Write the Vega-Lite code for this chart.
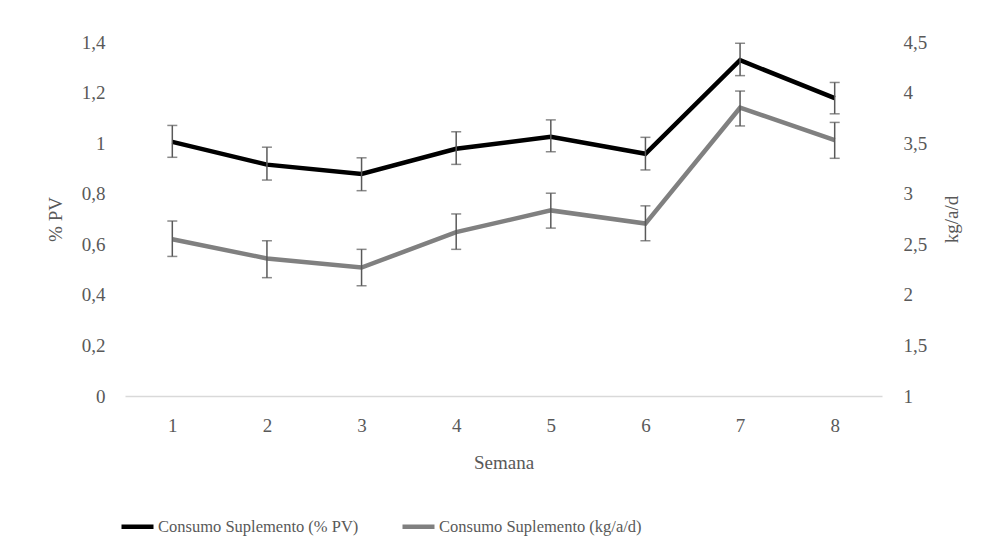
{
  "$schema": "https://vega.github.io/schema/vega-lite/v6.json",
  "width": 757,
  "height": 354,
  "autosize": {"type": "none"},
  "padding": {"left": 125, "top": 42, "right": 102, "bottom": 157},
  "background": "white",
  "config": {
    "view": {"stroke": null},
    "font": "Liberation Serif",
    "axis": {"labelFont": "Liberation Serif", "titleFont": "Liberation Serif", "labelColor": "#595959", "titleColor": "#595959", "labelFontSize": 19, "titleFontSize": 19, "titleFontWeight": "normal", "grid": false, "ticks": false},
    "legend": {"labelFont": "Liberation Serif", "labelFontSize": 16.5, "labelColor": "#595959", "labelLimit": 0}
  },
  "data": {
    "values": [
      {"semana": "1", "serie": "Consumo Suplemento (% PV)", "valor": 1.005, "lo": 0.944, "hi": 1.070},
      {"semana": "2", "serie": "Consumo Suplemento (% PV)", "valor": 0.915, "lo": 0.854, "hi": 0.984},
      {"semana": "3", "serie": "Consumo Suplemento (% PV)", "valor": 0.878, "lo": 0.812, "hi": 0.942},
      {"semana": "4", "serie": "Consumo Suplemento (% PV)", "valor": 0.978, "lo": 0.916, "hi": 1.045},
      {"semana": "5", "serie": "Consumo Suplemento (% PV)", "valor": 1.025, "lo": 0.966, "hi": 1.092},
      {"semana": "6", "serie": "Consumo Suplemento (% PV)", "valor": 0.958, "lo": 0.894, "hi": 1.023},
      {"semana": "7", "serie": "Consumo Suplemento (% PV)", "valor": 1.328, "lo": 1.267, "hi": 1.395},
      {"semana": "8", "serie": "Consumo Suplemento (% PV)", "valor": 1.178, "lo": 1.116, "hi": 1.240},
      {"semana": "1", "serie": "Consumo Suplemento (kg/a/d)", "valor": 2.55, "lo": 2.38, "hi": 2.73},
      {"semana": "2", "serie": "Consumo Suplemento (kg/a/d)", "valor": 2.36, "lo": 2.17, "hi": 2.535},
      {"semana": "3", "serie": "Consumo Suplemento (kg/a/d)", "valor": 2.27, "lo": 2.09, "hi": 2.45},
      {"semana": "4", "serie": "Consumo Suplemento (kg/a/d)", "valor": 2.62, "lo": 2.45, "hi": 2.80},
      {"semana": "5", "serie": "Consumo Suplemento (kg/a/d)", "valor": 2.835, "lo": 2.66, "hi": 3.005},
      {"semana": "6", "serie": "Consumo Suplemento (kg/a/d)", "valor": 2.705, "lo": 2.535, "hi": 2.88},
      {"semana": "7", "serie": "Consumo Suplemento (kg/a/d)", "valor": 3.85, "lo": 3.67, "hi": 4.015},
      {"semana": "8", "serie": "Consumo Suplemento (kg/a/d)", "valor": 3.53, "lo": 3.35, "hi": 3.705}
    ]
  },
  "encoding": {
    "x": {"field": "semana", "type": "ordinal", "title": "Semana",
      "scale": {"type": "point", "padding": 0.5},
      "axis": {"labelAngle": 0, "domainColor": "#d9d9d9", "domainWidth": 1.5, "labelPadding": 20, "titlePadding": 18}}
  },
  "layer": [
    {
      "transform": [{"filter": "datum.serie === 'Consumo Suplemento (% PV)'"}],
      "layer": [
        {
          "mark": {"type": "line", "strokeWidth": 4.5},
          "encoding": {
            "y": {"field": "valor", "type": "quantitative", "title": "% PV",
              "scale": {"domain": [0, 1.4], "nice": false, "zero": false},
              "axis": {"orient": "left", "values": [0, 0.2, 0.4, 0.6, 0.8, 1, 1.2, 1.4], "domain": false, "labelPadding": 20, "titlePadding": 16, "labelExpr": "replace(format(datum.value, '.2~f'), '.', ',')"}},
            "color": {"field": "serie", "type": "nominal",
              "scale": {"domain": ["Consumo Suplemento (% PV)", "Consumo Suplemento (kg/a/d)"], "range": ["#000000", "#808080"]},
              "legend": {"orient": "none", "legendX": -6, "legendY": 466, "direction": "horizontal", "title": null, "symbolType": "stroke", "symbolSize": 1024, "symbolStrokeWidth": 4.5, "labelOffset": 2, "columnPadding": 34}}
          }
        },
        {
          "mark": {"type": "rule", "color": "#595959", "strokeWidth": 1.5},
          "encoding": {"y": {"field": "lo", "type": "quantitative", "title": "% PV"}, "y2": {"field": "hi"}}
        },
        {
          "mark": {"type": "tick", "color": "#595959", "size": 10, "thickness": 1.5},
          "encoding": {"y": {"field": "lo", "type": "quantitative", "title": "% PV"}}
        },
        {
          "mark": {"type": "tick", "color": "#595959", "size": 10, "thickness": 1.5},
          "encoding": {"y": {"field": "hi", "type": "quantitative", "title": "% PV"}}
        }
      ]
    },
    {
      "transform": [{"filter": "datum.serie === 'Consumo Suplemento (kg/a/d)'"}],
      "layer": [
        {
          "mark": {"type": "line", "strokeWidth": 4.5},
          "encoding": {
            "y": {"field": "valor", "type": "quantitative", "title": "kg/a/d",
              "scale": {"domain": [1, 4.5], "nice": false, "zero": false},
              "axis": {"orient": "right", "values": [1, 1.5, 2, 2.5, 3, 3.5, 4, 4.5], "domain": false, "labelPadding": 21, "titlePadding": 35, "titleAngle": 270, "labelExpr": "replace(format(datum.value, '.2~f'), '.', ',')"}},
            "color": {"field": "serie", "type": "nominal"}
          }
        },
        {
          "mark": {"type": "rule", "color": "#595959", "strokeWidth": 1.5},
          "encoding": {"y": {"field": "lo", "type": "quantitative", "title": "kg/a/d"}, "y2": {"field": "hi"}}
        },
        {
          "mark": {"type": "tick", "color": "#595959", "size": 10, "thickness": 1.5},
          "encoding": {"y": {"field": "lo", "type": "quantitative", "title": "kg/a/d"}}
        },
        {
          "mark": {"type": "tick", "color": "#595959", "size": 10, "thickness": 1.5},
          "encoding": {"y": {"field": "hi", "type": "quantitative", "title": "kg/a/d"}}
        }
      ]
    }
  ],
  "resolve": {"scale": {"y": "independent"}}
}
